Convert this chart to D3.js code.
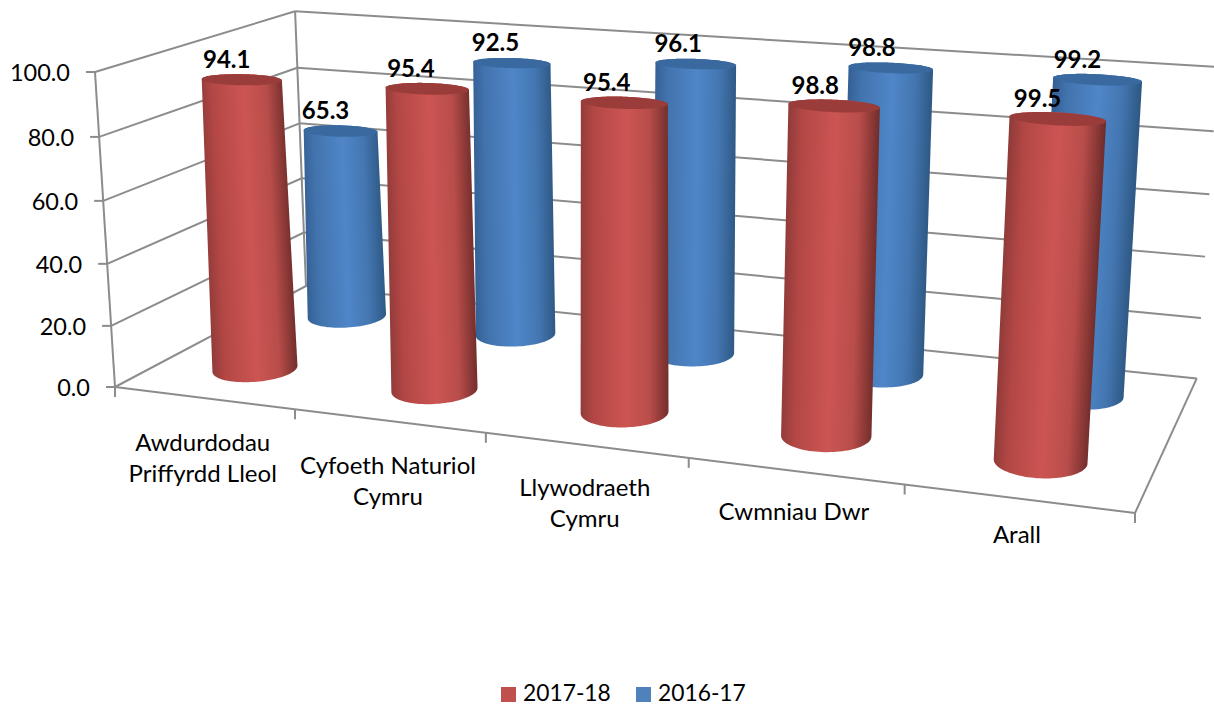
<!DOCTYPE html>
<html>
<head>
<meta charset="utf-8">
<script src="https://cdn.jsdelivr.net/npm/d3@7"></script>
<style>
    html, body { margin: 0; padding: 0; background: #fff; overflow: hidden; }
    text { font-family: Lato, sans-serif; fill: #000; }
</style>
</head>
<body>
<svg id="chart" width="1214" height="706"></svg>
<script>
const categories = ["Awdurdodau Priffyrdd Lleol", "Cyfoeth Naturiol Cymru", "Llywodraeth Cymru", "Cwmniau Dwr", "Arall"];
const categoryLines = [["Awdurdodau", "Priffyrdd Lleol"], ["Cyfoeth Naturiol", "Cymru"], ["Llywodraeth", "Cymru"], ["Cwmniau Dwr"], ["Arall"]];
const seriesNames = ["2017-18", "2016-17"];
const values2017 = [94.1, 95.4, 95.4, 98.8, 99.5];
const values2016 = [65.3, 92.5, 96.1, 98.8, 99.2];
const valueTicks = [0, 20, 40, 60, 80, 100];

const axisColor = "#8c8c8c";
const shades = {
    "2017-18": { swatch: "#c0504d", top: "#9a3d3a", stops: ["#8f3b39", "#b34745", "#cc5552", "#b84d4a", "#702d2b"] },
    "2016-17": { swatch: "#4f81bd", top: "#39699f", stops: ["#345f93", "#4273ad", "#4f86c8", "#4477b2", "#2e5884"] }
};

// floor and wall anchors of the box, with perspective weights for each direction
const origin = [115, 387];
const endU = [1135, 513];
const endV = [306, 286];
const endH = [95, 72];
const weight = { u: -0.143, v: 0.155, h: -0.037 };

const lift = (p, w) => [(1 + w) * p[0] - origin[0], (1 + w) * p[1] - origin[1]];
const axisU = lift(endU, weight.u);
const axisV = lift(endV, weight.v);
const axisH = lift(endH, weight.h);

const project = (u, v, h) => {
    const den = 1 + weight.u * u + weight.v * v + weight.h * h;
    return [
        (origin[0] + u * axisU[0] + v * axisV[0] + h * axisH[0]) / den,
        (origin[1] + u * axisU[1] + v * axisV[1] + h * axisH[1]) / den
    ];
};

const xScale = d3.scaleBand().domain(categories).range([0, 1]);
const depthScale = d3.scalePoint().domain(seriesNames).range([0.255, 0.765]);
const yScale = d3.scaleLinear().domain([0, 100]).range([0, 1]);
const labelDrop = d3.scaleLinear().domain([0.1, 0.3, 0.5, 0.7, 0.9]).range([53, 53, 51, 49, 44]);
const labelShift = d3.scaleLinear().domain([0.1, 0.9]).range([-15, -20]);
const radiusU = 0.0415;
const radiusV = 0.115;
const topFlatten = 0.62;

const svg = d3.select("#chart");
const defs = svg.append("defs");
const pathLine = d3.line();

const drawSegment = (group, a, b) => {
    group.append("line")
        .attr("x1", a[0]).attr("y1", a[1])
        .attr("x2", b[0]).attr("y2", b[1])
        .attr("stroke", axisColor)
        .attr("stroke-width", 2);
};

const drawFrame = () => {
    const frame = svg.append("g");
    valueTicks.forEach((t) => {
        const h = yScale(t);
        const front = project(0, 0, h);
        const back = project(0, 1, h);
        drawSegment(frame, front, back);
        drawSegment(frame, back, project(1, 1, h));
        drawSegment(frame, [front[0] - 9, front[1]], front);
    });
    drawSegment(frame, project(0, 0, 0), project(0, 0, 1));
    drawSegment(frame, project(0, 1, 0), project(0, 1, 1));
    drawSegment(frame, project(0, 0, 0), project(1, 0, 0));
    drawSegment(frame, project(1, 0, 0), project(1, 1, 0));
    d3.range(0, 6).forEach((i) => {
        const p = project(i / 5, 0, 0);
        drawSegment(frame, p, [p[0], p[1] + 10]);
    });
};

const ringPoints = (uc, vc, h, flatten) =>
    d3.range(0, 96).map((i) => {
        const t = (i / 96) * 2 * Math.PI;
        return project(uc + radiusU * Math.cos(t), vc + radiusV * flatten * Math.sin(t), h);
    });

const drawCylinder = (group, name, category, value, index) => {
    const uc = xScale(category) + xScale.bandwidth() / 2;
    const vc = depthScale(name);
    const h = yScale(value);
    const shade = shades[name];
    const bottom = ringPoints(uc, vc, 0, 1);
    const top = ringPoints(uc, vc, h, topFlatten);

    // shading runs across the leaning body, not straight along x
    const baseC = project(uc, vc, 0);
    const topC = project(uc, vc, h);
    const dx = topC[0] - baseC[0];
    const dy = topC[1] - baseC[1];
    const len = Math.hypot(dx, dy);
    const nx = -dy / len;
    const ny = dx / len;
    const mid = ringPoints(uc, vc, h / 2, 1);
    const sideLeft = d3.least(mid, (p) => p[0]);
    const sideRight = d3.greatest(mid, (p) => p[0]);
    const span = (sideRight[0] - sideLeft[0]) * nx + (sideRight[1] - sideLeft[1]) * ny;
    const id = `grad-${index}-${name}`;
    const grad = defs.append("linearGradient")
        .attr("id", id)
        .attr("gradientUnits", "userSpaceOnUse")
        .attr("x1", sideLeft[0]).attr("y1", sideLeft[1])
        .attr("x2", sideLeft[0] + nx * span).attr("y2", sideLeft[1] + ny * span);
    [0, 0.16, 0.52, 0.78, 1].forEach((o, i) => {
        grad.append("stop").attr("offset", o).attr("stop-color", shade.stops[i]);
    });

    group.append("path")
        .attr("d", pathLine(d3.polygonHull(bottom.concat(top))) + "Z")
        .attr("fill", `url(#${id})`);
    group.append("path")
        .attr("d", pathLine(top) + "Z")
        .attr("fill", shade.top);
};

const drawBars = () => {
    const bars = svg.append("g");
    categories.forEach((c, i) => drawCylinder(bars, "2016-17", c, values2016[i], i));
    categories.forEach((c, i) => drawCylinder(bars, "2017-18", c, values2017[i], i));
};

const drawDataLabels = () => {
    const labels = svg.append("g")
        .attr("font-size", 24)
        .attr("font-weight", 700)
        .attr("text-anchor", "middle");
    const addLabels = (name, values) => {
        categories.forEach((c, i) => {
            const uc = xScale(c) + xScale.bandwidth() / 2;
            const p = project(uc, depthScale(name), yScale(values[i]));
            labels.append("text")
                .attr("x", p[0] + labelShift(uc))
                .attr("y", p[1] - 12)
                .text(values[i].toFixed(1));
        });
    };
    addLabels("2016-17", values2016);
    addLabels("2017-18", values2017);
};

const drawAxisLabels = () => {
    const tickLabels = svg.append("g").attr("font-size", 23.5);
    valueTicks.forEach((t) => {
        const p = project(0, 0, yScale(t));
        tickLabels.append("text")
            .attr("x", p[0] - 25)
            .attr("y", p[1] + 9)
            .attr("text-anchor", "end")
            .text(t.toFixed(1));
    });
    const catLabels = svg.append("g").attr("font-size", 24);
    categories.forEach((c, i) => {
        const u = xScale(c) + xScale.bandwidth() / 2;
        const p = project(u, 0, 0);
        categoryLines[i].forEach((line, j) => {
            catLabels.append("text")
                .attr("x", p[0] - 1)
                .attr("y", p[1] + labelDrop(u) + j * 31)
                .attr("text-anchor", "middle")
                .text(line);
        });
    });
};

const drawLegend = () => {
    const legend = svg.append("g").attr("font-size", 22.8);
    const legendX = d3.scalePoint().domain(seriesNames).range([501, 636]);
    seriesNames.forEach((name) => {
        legend.append("rect")
            .attr("x", legendX(name))
            .attr("y", 687)
            .attr("width", 15)
            .attr("height", 15)
            .attr("fill", shades[name].swatch);
        legend.append("text")
            .attr("x", legendX(name) + 22)
            .attr("y", 701)
            .text(name);
    });
};

drawFrame();
drawBars();
drawDataLabels();
drawAxisLabels();
drawLegend();
</script>
</body>
</html>
